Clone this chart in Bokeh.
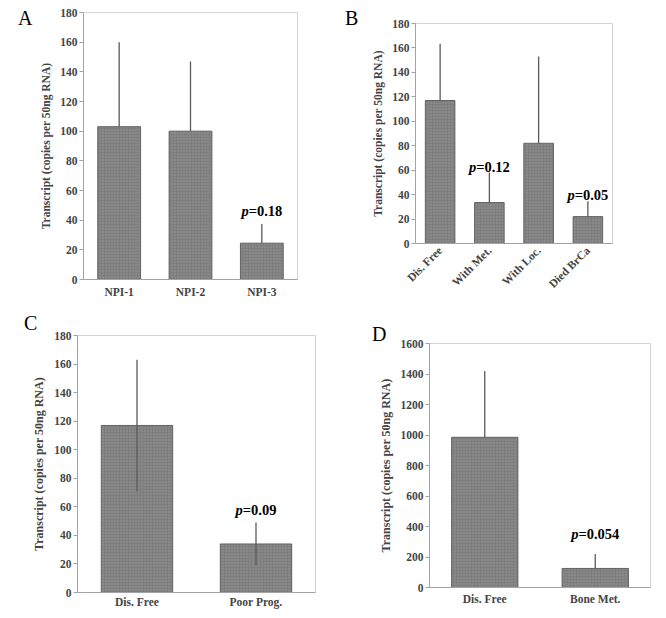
import math
from jinja2 import Template
from bokeh.plotting import figure
from bokeh.models import Range1d, FactorRange, SingleIntervalTicker, ColumnDataSource
from bokeh.core.properties import value
from bokeh.embed import file_html
from bokeh.resources import INLINE

# ---------------- data ----------------
# Panel A
a_cats = ["NPI-1", "NPI-2", "NPI-3"]
a_mean = [103, 100, 24.5]
a_err = [57, 47, 13]
a_p_cat = ["NPI-3"]
a_p_txt = ["=0.18"]
a_p_y = [46.5]

# Panel B
b_cats = ["Dis. Free", "With Met.", "With Loc.", "Died BrCa"]
b_mean = [117, 33.5, 82, 22]
b_err = [46.5, 24.5, 71, 12.5]
b_p_cat = ["With Met.", "Died BrCa"]
b_p_txt = ["=0.12", "=0.05"]
b_p_y = [62.7, 39.5]

# Panel C
c_cats = ["Dis. Free", "Poor Prog."]
c_mean = [117, 34]
c_err = [46, 15]
c_p_cat = ["Poor Prog."]
c_p_txt = ["=0.09"]
c_p_y = [57.7]

# Panel D
d_cats = ["Dis. Free", "Bone Met."]
d_mean = [985, 125]
d_err = [435, 95]
d_p_cat = ["Bone Met."]
d_p_txt = ["=0.054"]
d_p_y = [350]

panel_letters = ["A", "B", "C", "D"]

YLABEL = "Transcript (copies per 50ng RNA)"
SERIF = "Liberation Serif"

# approximate glyph widths (em) for Times bold, used to centre the p-labels
_W = {"=": 0.57, "0": 0.5, "1": 0.5, "2": 0.5, "4": 0.5, "5": 0.5, "8": 0.5, "9": 0.5, ".": 0.25}


def panel(cats, mean, err, two_sided, ymax, yint, p_cat, p_txt, p_y,
          width, height, left, right, top, bottom, fsize, lsize, xstand, rotate=False):
    p = figure(width=width, height=height, output_backend="svg", toolbar_location=None,
               x_range=FactorRange(*cats, range_padding=0),
               y_range=Range1d(0, ymax),
               min_border_left=left, min_border_right=right,
               min_border_top=top, min_border_bottom=bottom)
    p.xgrid.visible = False
    p.ygrid.visible = False
    p.outline_line_color = "#d4d4d4"
    p.background_fill_color = "white"
    p.border_fill_color = "white"

    src = ColumnDataSource(dict(x=cats, top=mean,
                                lo=[m - e if two_sided else m for m, e in zip(mean, err)],
                                hi=[m + e for m, e in zip(mean, err)]))
    p.vbar(x="x", top="top", width=0.6, source=src,
           fill_color="#7e7e7e", line_color="#636363", line_width=1,
           hatch_pattern="dot", hatch_color="#a6a6a6", hatch_scale=3, hatch_weight=1,
           hatch_alpha=0.65)
    p.segment(x0="x", x1="x", y0="lo", y1="hi", source=src,
              line_color="#5a5a5a", line_width=1.3)

    # p-value labels: italic "p" + bold rest, centred on the category
    fs = 14.5
    p_w = 0.5 * fs
    offs = []
    for t in p_txt:
        tw = sum(_W.get(ch, 0.5) for ch in t) * fs
        offs.append(-(p_w + tw) / 2 + p_w)
    ps = ColumnDataSource(dict(x=p_cat, y=p_y, t=p_txt, pp=["p"] * len(p_cat), off=offs))
    p.text(x="x", y="y", text="pp", x_offset="off", source=ps,
           text_font=value(SERIF), text_font_size=f"{fs}px", text_font_style="bold italic",
           text_align="right", text_baseline="alphabetic", text_color="black")
    p.text(x="x", y="y", text="t", x_offset="off", source=ps,
           text_font=value(SERIF), text_font_size=f"{fs}px", text_font_style="bold",
           text_align="left", text_baseline="alphabetic", text_color="black")

    # axes
    yax = p.yaxis[0]
    yax.ticker = SingleIntervalTicker(interval=yint)
    yax.axis_line_color = "#a3a3a3"
    yax.major_tick_line_color = "#a3a3a3"
    yax.major_tick_out = 4
    yax.major_tick_in = 0
    yax.minor_tick_line_color = None
    yax.major_label_standoff = 2
    yax.major_label_text_font = SERIF
    yax.major_label_text_font_style = "bold"
    yax.major_label_text_font_size = fsize
    yax.axis_label = YLABEL
    yax.axis_label_text_font = SERIF
    yax.axis_label_text_font_style = "bold"
    yax.axis_label_text_font_size = lsize
    yax.axis_label_standoff = 5

    xax = p.xaxis[0]
    xax.axis_line_color = "#a3a3a3"
    xax.major_tick_line_color = None
    xax.major_tick_out = 0
    xax.major_tick_in = 0
    xax.minor_tick_line_color = None
    xax.major_label_standoff = xstand
    xax.major_label_text_font = SERIF
    xax.major_label_text_font_style = "bold"
    xax.major_label_text_font_size = fsize
    if rotate:
        xax.major_label_orientation = math.pi / 4
    return p


pa = panel(a_cats, a_mean, a_err, False, 180, 20, a_p_cat, a_p_txt, a_p_y,
           325, 292, 75, 36, 4, 21, "11.5px", "11.5px", 6)
pb = panel(b_cats, b_mean, b_err, False, 180, 20, b_p_cat, b_p_txt, b_p_y,
           325, 292, 82, 46, 15, 57, "11.5px", "11.5px", 5, rotate=True)
pc = panel(c_cats, c_mean, c_err, True, 180, 20, c_p_cat, c_p_txt, c_p_y,
           325, 310, 69, 18, 35, 18, "11.5px", "12px", 3)
pd = panel(d_cats, d_mean, d_err, False, 1600, 200, d_p_cat, d_p_txt, d_p_y,
           325, 310, 96, 8, 43, 23, "11.5px", "12px", 5)

# each panel is an independent root, placed in a 2x2 CSS grid (no frame alignment);
# the panel letters sit at the top-left of each panel (Bokeh clips labels to the frame)
PAGE = Template("""{% from macros import embed %}<!DOCTYPE html>
<html lang="en">
<head>
<meta charset="utf-8">
<title>Transcript levels</title>
{{ bokeh_css if bokeh_css }}
{{ bokeh_js if bokeh_js }}
<style>
#panels { position: relative; display: grid; grid-template-columns: 325px 325px;
          grid-template-rows: 292px 310px; width: 650px; height: 602px; }
.letter { position: absolute; z-index: 5; font-family: "Liberation Serif", serif;
          font-size: 20px; line-height: 20px; color: black; }
</style>
</head>
<body>
<div id="panels">
{% for doc in docs %}{% for root in doc.roots %}{{ embed(root) }}
{% endfor %}{% endfor %}
<span class="letter" style="left:10px; top:0px;">{{ letters[0] }}</span>
<span class="letter" style="left:337px; top:0px;">{{ letters[1] }}</span>
<span class="letter" style="left:16px; top:305px;">{{ letters[2] }}</span>
<span class="letter" style="left:364px; top:316px;">{{ letters[3] }}</span>
</div>
{{ plot_script }}
</body>
</html>""")

open("out.html", "w").write(file_html([pa, pb, pc, pd], INLINE, template=PAGE,
                                      template_variables={"letters": panel_letters}))
